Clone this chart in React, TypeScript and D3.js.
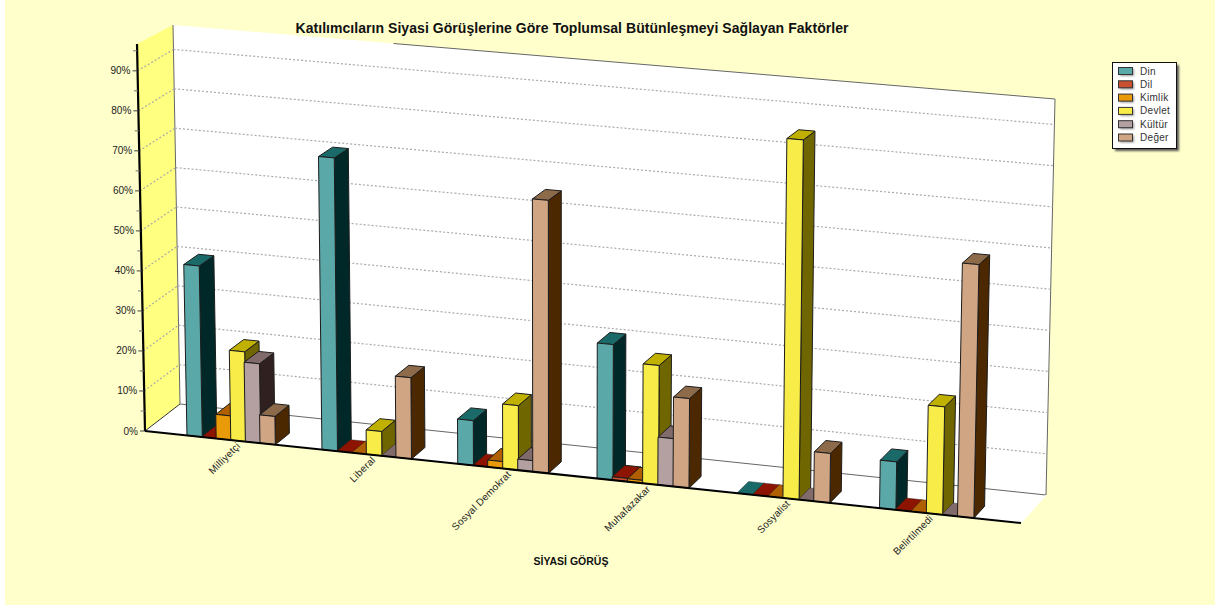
import React from "react";
import * as d3 from "d3";

const title = "Katılımcıların Siyasi Görüşlerine Göre Toplumsal Bütünleşmeyi Sağlayan Faktörler";
const axisTitle = "SİYASİ GÖRÜŞ";
const categories = ["Milliyetçi", "Liberal", "Sosyal Demokrat", "Muhafazakar", "Sosyalist", "Belirtilmedi"];
const seriesNames = ["Din", "Dil", "Kimlik", "Devlet", "Kültür", "Değer"];
const din = [42.6, 72.5, 11, 33, 0, 11.5];
const dil = [0, 0, 0, 0.8, 0, 0];
const kimlik = [6, 0, 1.7, 0.7, 0, 0];
const devlet = [22.3, 6, 15.8, 29, 86.7, 25.8];
const kultur = [19.7, 0, 2.7, 11.6, 0, 0];
const deger = [7, 20, 66.7, 21.7, 11.9, 60.5];
const seriesValues = [din, dil, kimlik, devlet, kultur, deger];
const frontColors = ["#5BA8A8", "#C85030", "#E89A08", "#F8EC48", "#B4A0A0", "#CFA583"];
const topColors = ["#1A6A6A", "#8C1400", "#B06000", "#C0B000", "#806A6A", "#8C6A4A"];
const sideColors = ["#002828", "#4A0A00", "#5A3000", "#706600", "#302020", "#4C2800"];
const yTicks = [0, 10, 20, 30, 40, 50, 60, 70, 80, 90];
const yMinorTicks = [5, 15, 25, 35, 45, 55, 65, 75, 85, 95];

type P = [number, number];
const FLB: P = [145, 431], FRB: P = [1021, 523], BLB: P = [180, 404], BRB: P = [1046, 495];
const FLT: P = [137, 46], FRT: P = [1030, 119], BLT: P = [173, 25], BRT: P = [1055, 99];
const mix = (a: P, b: P, t: number): P => [a[0] + (b[0] - a[0]) * t, a[1] + (b[1] - a[1]) * t];
const vScale = d3.scaleLinear().domain([0, 96.2]).range([0, 1]);
const project = (u: number, z: number, v: number): P => {
  const bottom = mix(mix(FLB, FRB, u), mix(BLB, BRB, u), z);
  const top = mix(mix(FLT, FRT, u), mix(BLT, BRT, u), z);
  return mix(bottom, top, vScale(v));
};
const groupU = d3.scaleLinear().domain([0, 1, 2, 3, 4, 5]).range([0.0479, 0.202, 0.357, 0.516, 0.6755, 0.8385]);
const stepU = d3.scaleLinear().domain([0, 5]).range([0.01667, 0.0178]);
const barDepth = 0.42;
const line = d3.line<P>();
const poly = (pts: P[]) => line(pts)! + "Z";
const sans = "'Liberation Sans', Arial, sans-serif";

function Bar({ g, s }: { g: number; s: number }) {
  const v = seriesValues[s][g];
  const step = stepU(g);
  const u0 = groupU(g) + s * step;
  const u1 = u0 + step * 1.05;
  const stroke = "#1c1c1c";
  const a = project(u0, 0, 0), b = project(u1, 0, 0), c = project(u1, 0, v), d = project(u0, 0, v);
  const e = project(u1, barDepth, v), f = project(u0, barDepth, v), h = project(u1, barDepth, 0);
  return (
    <g stroke={stroke} strokeWidth={1} strokeLinejoin="round">
      {v > 0 && <path d={poly([b, h, e, c])} fill={sideColors[s]} />}
      <path d={poly([d, c, e, f])} fill={topColors[s]} strokeWidth={v > 0 ? 1 : 0.4} />
      {v > 0 && <path d={poly([a, b, c, d])} fill={frontColors[s]} />}
    </g>
  );
}

export default function App() {
  const axisTop: P = [137, 44];
  return (
    <svg width={1215} height={605} style={{ position: "absolute", left: 0, top: 0, background: "#fff" }} fontFamily={sans}>
      <defs>
        <filter id="soft" x="-20%" y="-20%" width="140%" height="140%"><feGaussianBlur stdDeviation="1.2" /></filter>
      </defs>
      <rect x={5} y={0} width={1210} height={605} fill="#FFFFCC" />
      <text x={572} y={33} textAnchor="middle" fontSize={14} letterSpacing={0.05} fontWeight="bold" fill="#111">{title}</text>

      {/* walls and floor */}
      <path d={poly([FLB, axisTop, BLT, BLB])} fill="#FFFF80" />
      <path d={poly([BLB, BLT, BRT, BRB])} fill="#fff" />
      <path d={poly([FLB, FRB, BRB, BLB])} fill="#fff" />
      <path d={line([project(0.25, 1, 96.2), BRT, BRB, BLB, BLT])!} fill="none" stroke="#666" strokeWidth={1} />
      <path d={line([FRB, BRB])!} fill="none" stroke="#fff" strokeWidth={1} />
      <path d={line([BLB, FLB])!} fill="none" stroke="#333" strokeWidth={1} />

      {/* gridlines */}
      {yTicks.filter(t => t > 0).map(t => (
        <g key={t} fill="none" stroke="#aaaaaa" strokeWidth={1.2} strokeDasharray="2 2">
          <path d={line([project(0, 1, t), project(1, 1, t)])!} />
          <path d={line([project(0, 0, t), project(0, 1, t)])!} />
        </g>
      ))}

      {/* bars */}
      {categories.map((_, g) => seriesNames.map((_, s) => <Bar key={`${g}-${s}`} g={g} s={s} />))}

      {/* axes */}
      <path d={line([FLB, FRB])!} fill="none" stroke="#000" strokeWidth={2} />
      <path d={line([FLB, axisTop])!} fill="none" stroke="#000" strokeWidth={2.2} />
      {yMinorTicks.map(t => {
        const p = project(0, 0, t);
        return <path key={t} d={line([[p[0] - 4, p[1]], p])!} stroke="#777" strokeWidth={1} />;
      })}
      {yTicks.map(t => {
        const p = project(0, 0, t);
        return (
          <g key={t}>
            <path d={line([[p[0] - 5, p[1]], p])!} stroke="#444" strokeWidth={1} />
            <text x={p[0] - 7} y={p[1] + 3.5} textAnchor="end" fontSize={10} fill="#222">{t}%</text>
          </g>
        );
      })}

      {/* category labels */}
      {categories.map((c, g) => {
        const p = project(groupU(g) + 54 / 876, 0, 0);
        return (
          <text key={c} transform={`translate(${p[0]},${p[1] + 5.5}) rotate(-45)`} textAnchor="end"
            fontSize={10} letterSpacing={0.2} fill="#222">{c}</text>
        );
      })}
      <text x={571} y={565} textAnchor="middle" fontSize={10.5} fontWeight="bold" fill="#111">{axisTitle}</text>

      {/* legend */}
      <rect x={1115} y={65} width={64} height={86} fill="#555" filter="url(#soft)" />
      <rect x={1112.5} y={62.5} width={64} height={86} fill="#fff" stroke="#111" strokeWidth={1} />
      {seriesNames.map((n, i) => {
        const y = 71 + i * 13.3;
        return (
          <g key={n}>
            <rect x={1120} y={y - 2} width={14} height={7} fill="#999" filter="url(#soft)" />
            <rect x={1118.5} y={y - 3.5} width={14} height={7} fill={frontColors[i]} stroke="#333" strokeWidth={1} />
            <text x={1140} y={y + 3.5} fontSize={10} letterSpacing={0.3} fill="#333">{n}</text>
          </g>
        );
      })}
    </svg>
  );
}
